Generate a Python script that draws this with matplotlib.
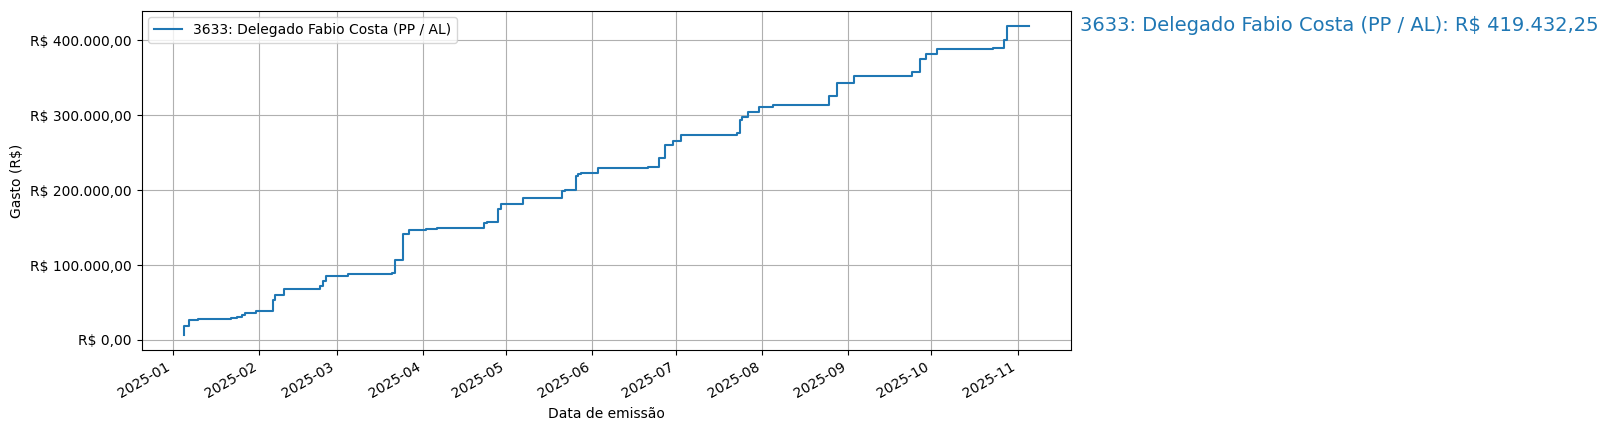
import matplotlib
matplotlib.use("Agg")
import matplotlib.pyplot as plt
import matplotlib.dates as mdates
from matplotlib.ticker import FuncFormatter
import numpy as np
import pandas as pd

label = "3633: Delegado Fabio Costa (PP / AL)"
day_offsets = [4, 4, 6, 9, 16, 21, 23, 25, 26, 30, 36, 37, 40, 51, 53, 54, 55, 63,
               79, 80, 83, 85, 91, 95, 112, 113, 117, 118, 126, 140, 141, 145, 146,
               147, 153, 171, 175, 177, 180, 183, 203, 204, 205, 207, 211, 216, 236,
               239, 245, 266, 269, 271, 275, 295, 299, 300, 301, 308]
cumulative = [6700, 19100, 26200, 27600, 28500, 29800, 31200, 33400, 36500, 38300,
              53900, 59300, 67300, 68600, 72600, 78400, 86000, 87500, 89300, 106300,
              141300, 147100, 148000, 149300, 155600, 157300, 174300, 181400, 189000,
              198600, 200200, 218700, 221500, 222900, 229400, 231400, 243000, 260300,
              266200, 274200, 276900, 294300, 297800, 304100, 311700, 313800, 325900,
              343300, 352700, 357600, 375000, 382100, 388800, 390100, 400800, 419000,
              419432.25, 419432.25]

dates = pd.Timestamp("2025-01-01") + pd.to_timedelta(day_offsets, unit="D")

def brl(v, pos=None):
    s = f"{v:,.2f}"
    s = s.replace(",", "X").replace(".", ",").replace("X", ".")
    return f"R$ {s}"

fig = plt.figure(figsize=(16.07, 4.30), dpi=100)
ax = fig.add_axes([141.5/1607, (430-350.3)/430, (1071-141.5)/1607, (350.3-10.5)/430])
ax.plot(dates, cumulative, drawstyle="steps-post", color="#1f77b4", label=label)
ax.xaxis.set_major_locator(mdates.MonthLocator())
ax.xaxis.set_major_formatter(mdates.DateFormatter("%Y-%m"))
for lab in ax.get_xticklabels():
    lab.set_rotation(30)
    lab.set_ha("right")
ax.yaxis.set_major_formatter(FuncFormatter(brl))
ax.set_xlabel("Data de emissão")
ax.set_ylabel("Gasto (R$)")
ax.grid(True)
ax.legend(loc="upper left")
final = cumulative[-1]
ax.text(1.01, final, f"{label}: {brl(final)}", transform=ax.get_yaxis_transform(),
        color="#1f77b4", fontsize=14, va="center", ha="left", clip_on=False)
fig.savefig("out.png", dpi=100)
